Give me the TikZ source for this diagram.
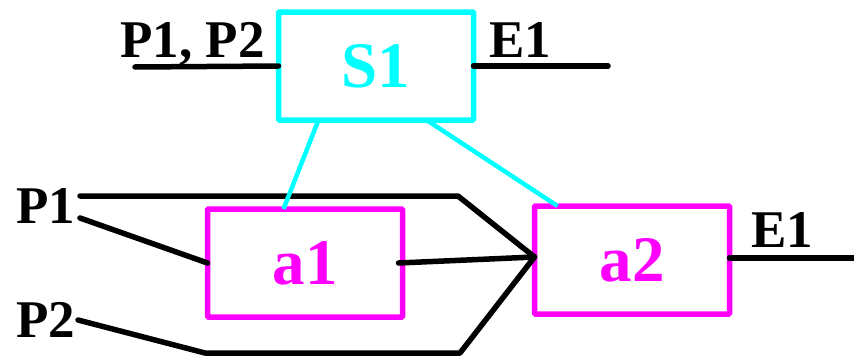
\documentclass[tikz,border=0pt]{standalone}
\usepackage{fontspec}
\setmainfont{Liberation Serif}
\definecolor{boxcyan}{RGB}{0,255,255}
\definecolor{boxmagenta}{RGB}{255,0,255}
\tikzset{
  unit/.style={draw, line width=5.5pt, rounded corners=1pt, minimum width=195pt,
    minimum height=108pt, inner sep=0pt, outer sep=0pt,
    font=\bfseries\fontsize{65}{65}\selectfont},
  stagebox/.style={unit, draw=boxcyan, text=boxcyan},
  actbox/.style={unit, draw=boxmagenta, text=boxmagenta},
  lbl/.style={inner sep=0pt, font=\bfseries\fontsize{53}{53}\selectfont},
  wire/.style={line width=5.5pt, line cap=round, line join=round},
  link/.style={draw=boxcyan, line width=4.5pt}
}
\begin{document}
\begin{tikzpicture}[x=1pt, y=-1pt]
  \useasboundingbox (0,0) rectangle (854,356);

  % boxes
  \node[stagebox] (S1) at (376,66) {S1};
  \node[actbox] (a1) at (305,263) {a1};
  \node[actbox] (a2) at (632,260) {a2};

  % labels
  \node[lbl, anchor=base east] (lP12) at (265,57) {P1, P2};
  \node[lbl, anchor=base west] (lE1top) at (489,57) {E1};
  \node[lbl, anchor=base west] (lP1) at (16,223) {P1};
  \node[lbl, anchor=base west] (lP2) at (16,337) {P2};
  \node[lbl, anchor=base west] (lE1) at (751,247) {E1};

  % free ends of the wires
  \coordinate (inS) at (135,67);
  \coordinate (outS) at (608,66);
  \coordinate (inP1a) at (80,196);
  \coordinate (inP1b) at (80,218);
  \coordinate (inP2) at (78,320);
  \coordinate (bendP1) at (458,196);
  \coordinate (bendP2a) at (205,353);
  \coordinate (bendP2b) at (460,353);
  \coordinate (outA) at (860,258);

  % wires (shifts are in page units: positive moves up)
  \draw[wire] (inS) -- (S1.west);
  \draw[wire] (S1.east) -- (outS);
  \draw[wire] (inP1a) -- (bendP1) -- ([yshift=3pt]a2.west);
  \draw[wire] (inP1b) -- (a1.west);
  \draw[wire] ([xshift=-4pt]a1.east) -- ([yshift=3pt]a2.west);
  \draw[wire] (inP2) -- (bendP2a) -- (bendP2b) -- ([yshift=3pt]a2.west);
  \draw[wire] ([yshift=2pt]a2.east) -- (outA);

  % links from the stage to its activities
  \draw[link] ([xshift=40pt]S1.south west) -- ([xshift=76pt]a1.north west);
  \draw[link] ([xshift=-47pt]S1.south east) -- ([xshift=23pt]a2.north west);
\end{tikzpicture}
\end{document}
